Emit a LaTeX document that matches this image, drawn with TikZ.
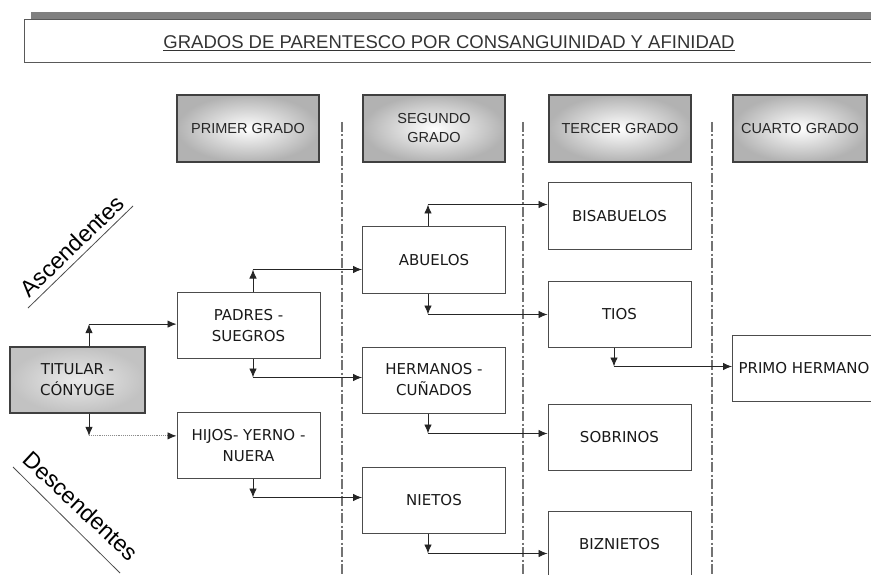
\documentclass[tikz,border=0pt]{standalone}
\usepackage{fontspec}
\setmainfont{Liberation Sans}
\newfontfamily\boxfont{DejaVu Sans}
\usetikzlibrary{arrows.meta}

\tikzset{
  kinbox/.style={draw=black!70, line width=1pt, minimum width=143pt,
    minimum height=66pt, align=center, text=black!90,
    font=\boxfont\fontsize{15}{21}\selectfont},
  titularbox/.style={kinbox, draw=black!75, line width=1.8pt,
    minimum width=135pt, inner color=black!8, outer color=black!24},
  gradobox/.style={draw=black!75, line width=1.6pt, minimum width=142pt,
    minimum height=67pt, align=center, inner color=white,
    outer color=black!30, text=black!85, font=\fontsize{14.5}{19}\selectfont},
  link/.style={-{Latex[length=9pt,width=7.5pt]}, line width=0.9pt, black!85},
  dotlink/.style={-{Latex[length=9pt,width=7.5pt,black!85]}, line width=0.9pt,
    draw=black!45, densely dotted},
  divider/.style={black!55, line width=2.6pt,
    dash pattern=on 10pt off 2.5pt on 2pt off 2.5pt},
  sideline/.style={black!70, line width=0.8pt},
  sidelabel/.style={font=\fontsize{23}{23}\selectfont},
}

\begin{document}
\begin{tikzpicture}[x=1pt, y=-1pt]
  \useasboundingbox (0,0) rectangle (871,575);
  \clip (0,0) rectangle (871,575);

  % title
  \fill[black!50] (31,12) rectangle (880,20);
  \draw[black!65, line width=1pt] (24,20) rectangle (880,63);
  \node[anchor=base, font=\fontsize{18.5}{22}\selectfont, text=black!80]
    (title) at (449,49)
    {\underline{GRADOS DE PARENTESCO POR CONSANGUINIDAD Y AFINIDAD}};

  % column headers
  \node[gradobox] (primer) at (248,128.5) {PRIMER GRADO};
  \node[gradobox] (segundo) at (434,128.5) {SEGUNDO\\GRADO};
  \node[gradobox] (tercer) at (620,128.5) {TERCER GRADO};
  \node[gradobox, minimum width=134pt] (cuarto) at (800,128.5) {CUARTO GRADO};

  \foreach \x in {342,523,712}
    \draw[divider] (\x,122) -- (\x,575);

  % side labels
  \draw[sideline] (28,308) -- (133,206);
  \node[sidelabel, rotate=44] (asc) at (72,246) {Ascendentes};
  \draw[sideline] (13,467) -- (120,573);
  \node[sidelabel, rotate=-43] (desc) at (81,506) {Descendentes};

  % relatives
  \node[titularbox] (titular) at (77.5,380) {TITULAR -\\CÓNYUGE};
  \node[kinbox] (padres) at (248.5,325.5) {PADRES -\\SUEGROS};
  \node[kinbox] (hijos) at (248.5,445.5) {HIJOS- YERNO -\\NUERA};
  \node[kinbox] (abuelos) at (434,260) {ABUELOS};
  \node[kinbox] (hermanos) at (434,380) {HERMANOS -\\CUÑADOS};
  \node[kinbox] (nietos) at (434,500) {NIETOS};
  \node[kinbox] (bisabuelos) at (619.5,216) {BISABUELOS};
  \node[kinbox] (tios) at (619.5,314.5) {TIOS};
  \node[kinbox] (sobrinos) at (619.5,437) {SOBRINOS};
  \node[kinbox] (biznietos) at (619.5,544) {BIZNIETOS};
  \node[kinbox] (primo) at (804,368.5) {PRIMO HERMANO};

  % connectors
  \draw[link] ([xshift=11.5pt]titular.north) -- ++(0,-22) coordinate (t1);
  \draw[link] (t1) -- (t1 -| padres.west);
  \draw[link] ([xshift=11.5pt]titular.south) -- ++(0,22) coordinate (t2);
  \draw[dotlink] (t2) -- (t2 -| hijos.west);

  \draw[link] ([xshift=4.5pt]padres.north) -- ++(0,-22.5) coordinate (p1);
  \draw[link] (p1) -- (p1 -| abuelos.west);
  \draw[link] ([xshift=4.5pt]padres.south) -- ++(0,18.5) coordinate (p2);
  \draw[link] (p2) -- (p2 -| hermanos.west);
  \draw[link] ([xshift=4.5pt]hijos.south) -- ++(0,18.5) coordinate (h1);
  \draw[link] (h1) -- (h1 -| nietos.west);

  \draw[link] ([xshift=-6pt]abuelos.north) -- ++(0,-22) coordinate (a1);
  \draw[link] (a1) -- (a1 -| bisabuelos.west);
  \draw[link] ([xshift=-6pt]abuelos.south) -- ++(0,21) coordinate (a2);
  \draw[link] (a2) -- (a2 -| tios.west);
  \draw[link] ([xshift=-6pt]hermanos.south) -- ++(0,20) coordinate (e1);
  \draw[link] (e1) -- (e1 -| sobrinos.west);
  \draw[link] ([xshift=-6pt]nietos.south) -- ++(0,20) coordinate (n1);
  \draw[link] (n1) -- (n1 -| biznietos.west);

  \draw[link] ([xshift=-5.5pt]tios.south) -- ++(0,18.5) coordinate (o1);
  \draw[link] (o1) -- (o1 -| primo.west);
\end{tikzpicture}
\end{document}
